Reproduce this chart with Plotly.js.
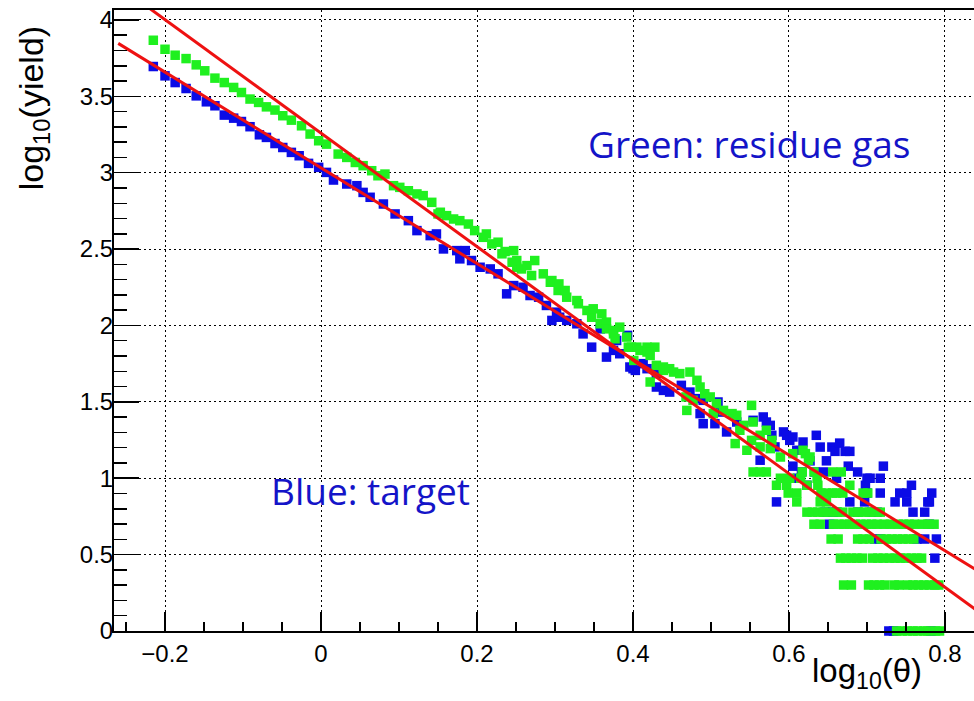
<!DOCTYPE html>
<html>
<head>
<meta charset="utf-8">
<script src="https://cdn.plot.ly/plotly-3.0.1.min.js"></script>
<style>html,body{margin:0;padding:0;background:#fff;overflow:hidden}#plot{width:974px;height:701px}</style>
</head>
<body>
<div id="plot"></div>
<script>
// Blue: target  (log10(theta), log10(yield))
var blueX = [-0.215,-0.200,-0.187,-0.173,-0.160,-0.147,-0.136,-0.124,-0.112,-0.102,-0.091,-0.079,-0.070,-0.059,-0.049,-0.038,-0.028,-0.016,-0.003,0.007,0.016,0.033,0.046,0.054,0.063,
  0.080,0.095,0.112,0.123,0.140,0.148,0.157,0.174,0.178,0.185,0.193,0.204,0.217,0.227,0.238,0.247,0.259,0.268,0.279,0.289,0.296,0.302,0.306,0.315,0.328,0.336,0.347,0.358,0.366,0.375,0.379,0.383,0.393,0.396,0.400,0.403,0.413,0.418,0.430,0.430,0.439,0.447,0.462,0.473,0.482,
  0.486,0.490,0.490,0.505,0.509,0.512,0.520,0.533,0.554,0.563,0.567,0.571,0.576,0.578,0.582,0.584,0.593,0.597,0.601,0.605,0.605,0.610,0.611,0.616,0.618,0.623,0.627,0.633,0.635,0.640,0.644,0.646,0.648,0.652,0.655,0.656,0.659,0.661,0.661,0.665,0.672,0.676,0.678,0.678,0.688,0.688,0.697,0.698,0.700,0.700,0.704,0.706,0.710,0.713,0.717,0.717,0.717,0.721,
  0.728,0.734,0.736,0.742,0.751,0.751,0.757,0.759,0.764,0.774,0.774,0.778,0.780,0.780,0.782,0.783,0.787,0.789];
var blueY = [3.695,3.634,3.590,3.551,3.503,3.464,3.438,3.377,3.357,3.335,3.301,3.248,3.231,3.191,3.165,3.133,3.111,3.061,3.035,3.002,2.952,2.926,2.915,2.871,2.839,
  2.795,2.730,2.686,2.621,2.588,2.599,2.501,2.490,2.436,2.490,2.425,2.381,2.370,2.338,2.207,2.261,2.250,2.196,2.185,2.131,2.033,2.087,2.054,2.033,2.011,1.945,1.858,1.978,1.793,1.837,1.902,1.815,1.935,1.728,1.717,1.706,1.750,1.717,1.685,1.597,1.575,1.564,1.608,1.564,1.521,
  1.423,1.510,1.357,1.357,1.499,1.433,1.303,1.368,1.379,1.118,1.401,1.368,1.346,1.281,1.205,0.845,1.303,1.281,1.248,1.270,1.079,1.183,1.000,1.041,1.237,0.954,1.114,1.041,1.281,1.204,1.041,0.778,1.114,0.699,1.204,0.778,1.176,1.000,0.778,1.230,1.176,1.079,1.176,0.845,1.041,0.778,0.845,0.954,1.000,0.903,1.000,0.778,0.602,0.778,1.000,0.903,0.602,1.079,
  0,0,0.845,0.903,0.845,0.903,0.954,0.778,0.602,0.778,0.602,0.845,0.845,0.699,0,0.903,0.477,0.602];

// Green: residue gas
var greenX = [-0.215,-0.200,-0.187,-0.173,-0.160,-0.149,-0.136,-0.124,-0.112,-0.102,-0.091,-0.080,-0.070,-0.059,-0.049,-0.038,-0.025,-0.014,-0.003,0.007,0.022,0.033,0.044,0.054,0.065,0.073,0.082,0.093,
  0.101,0.112,0.123,0.131,0.142,0.150,0.153,0.161,0.170,0.178,0.189,0.197,0.208,0.212,0.219,0.227,0.232,0.236,0.245,0.247,0.251,0.251,0.257,0.264,0.270,0.274,0.285,0.294,0.296,0.304,0.305,0.313,0.315,0.328,0.330,0.341,0.347,0.349,0.358,0.360,0.366,0.366,0.375,0.375,0.377,0.383,0.392,0.394,0.398,0.401,0.405,0.409,0.418,0.418,0.422,0.422,0.428,0.430,0.439,0.439,0.447,0.452,0.460,0.468,0.469,0.473,0.477,0.482,0.486,0.492,0.499,
  0.503,0.507,0.516,0.527,0.531,0.533,0.537,0.542,0.546,0.552,0.552,0.554,0.554,0.563,0.563,0.563,0.571,0.571,0.576,0.578,0.584,0.589,0.589,0.597,0.599,0.601,0.605,0.610,0.610,0.615,0.617,0.618,0.621,0.623,0.625,0.627,0.632,0.636,0.637,0.640,0.641,0.648,0.648,0.656,0.656,0.661,0.667,0.669,0.678,0.695,0.701,
  0.623,0.630,0.637,0.644,0.651,0.662,0.669,0.682,0.689,0.696,0.703,0.710,0.717,
  0.632,0.640,0.657,0.664,0.671,0.678,0.685,0.692,0.699,0.706,0.713,0.722,0.730,0.740,0.747,0.754,0.761,0.771,0.778,0.786,
  0.654,0.663,0.688,0.695,0.703,0.718,0.725,0.732,0.739,0.746,0.753,0.760,
  0.666,0.673,0.680,0.687,0.694,0.707,0.714,0.721,0.729,0.736,0.743,0.750,0.757,0.764,0.770,
  0.670,0.680,0.702,0.709,0.716,0.723,0.735,0.741,0.752,0.759,0.766,0.773,0.780,0.787,0.792,
  0.738,0.745,0.752,0.759,0.765,0.773,0.778,0.788,0.793];
var greenY = [3.867,3.808,3.769,3.747,3.706,3.667,3.619,3.590,3.558,3.525,3.482,3.460,3.431,3.410,3.373,3.344,3.307,3.253,3.209,3.187,3.122,3.100,3.067,3.046,3.013,2.980,2.991,2.915,
  2.904,2.882,2.861,2.850,2.806,2.730,2.741,2.719,2.697,2.686,2.664,2.621,2.577,2.599,2.534,2.545,2.469,2.484,2.414,2.490,2.381,2.425,2.370,2.392,2.327,2.425,2.338,2.283,2.294,2.229,2.272,2.229,2.185,2.163,2.142,2.098,2.054,2.109,2.011,2.076,2.022,1.978,1.967,1.945,1.913,1.989,1.924,1.858,1.858,1.771,1.858,1.837,1.858,1.826,1.804,1.630,1.858,1.739,1.728,1.706,1.717,1.695,1.685,1.532,1.444,1.695,1.510,1.641,1.597,1.553,1.532,
  1.423,1.488,1.444,1.423,1.227,1.412,1.314,1.346,1.183,1.477,1.248,1.368,1.041,1.281,1.205,1.041,1.314,1.041,1.194,1.248,0.954,1.139,1.000,0.954,0.903,1.000,1.161,0.845,0.903,1.000,1.041,1.183,1.161,0.954,1.118,1.139,1.041,1.000,0.954,0.845,0.903,0.903,0.845,0.903,1.041,0.903,1.041,0.903,0.954,0.903,0.903,
  0.778,0.778,0.778,0.778,0.778,0.778,0.778,0.778,0.778,0.778,0.778,0.778,0.778,
  0.699,0.699,0.699,0.699,0.699,0.699,0.699,0.699,0.699,0.699,0.699,0.699,0.699,0.699,0.699,0.699,0.699,0.699,0.699,0.699,
  0.602,0.602,0.602,0.602,0.602,0.602,0.602,0.602,0.602,0.602,0.602,0.602,
  0.477,0.477,0.477,0.477,0.477,0.477,0.477,0.477,0.477,0.477,0.477,0.477,0.477,0.477,0.477,
  0.301,0.301,0.301,0.301,0.301,0.301,0.301,0.301,0.301,0.301,0.301,0.301,0.301,0.301,0.301,
  0,0,0,0,0,0,0,0,0];

// linear fits: [intercept, slope]
var blueFit = [3.032, -3.133];
var greenFit = [3.259, -3.715];
var fitRange = [-0.26, 0.84];

var xTickVals = [-0.2, 0, 0.2, 0.4, 0.6, 0.8];
var xTickText = ['\u22120.2', '0', '0.2', '0.4', '0.6', '0.8'];
var yTickVals = [0, 0.5, 1, 1.5, 2, 2.5, 3, 3.5, 4];
var yTickText = ['0', '0.5', '1', '1.5', '2', '2.5', '3', '3.5', '4'];

function fitLine(p) { return fitRange.map(function (x) { return p[0] + p[1] * x; }); }

var mk = function (c) { return { symbol: 'square', size: 9.5, color: c, line: { width: 0 } }; };
var traces = [
  { x: blueX, y: blueY, type: 'scatter', mode: 'markers', marker: mk('#0b0be6'), cliponaxis: false, hoverinfo: 'skip' },
  { x: greenX, y: greenY, type: 'scatter', mode: 'markers', marker: mk('#1ff01f'), cliponaxis: false, hoverinfo: 'skip' },
  { x: fitRange, y: fitLine(blueFit), type: 'scatter', mode: 'lines', line: { color: '#ee1111', width: 3 }, hoverinfo: 'skip' },
  { x: fitRange, y: fitLine(greenFit), type: 'scatter', mode: 'lines', line: { color: '#ee1111', width: 3 }, hoverinfo: 'skip' }
];

var axFont = { family: 'Liberation Sans, Arial, sans-serif', size: 24, color: '#000' };
var layout = {
  width: 974, height: 701,
  margin: { l: 114, r: 0, t: 10, b: 70, pad: 0 },
  paper_bgcolor: '#fff', plot_bgcolor: '#fff',
  showlegend: false,
  xaxis: {
    range: [-0.2654, 0.8372], tickvals: xTickVals, ticktext: xTickText,
    ticks: 'inside', ticklen: 19, tickwidth: 1.5, tickcolor: '#000',
    showline: true, linewidth: 2, linecolor: '#000', mirror: true,
    showgrid: true, gridcolor: '#000', gridwidth: 1, griddash: '2px,3px',
    zeroline: false, tickfont: axFont,
    minor: { dtick: 0.05, tick0: 0, ticks: 'inside', ticklen: 9, tickwidth: 1.5, tickcolor: '#000', showgrid: false }
  },
  yaxis: {
    range: [0, 4.065], tickvals: yTickVals, ticktext: yTickText,
    ticks: 'inside', ticklen: 25, tickwidth: 1.5, tickcolor: '#000',
    showline: true, linewidth: 2, linecolor: '#000',
    showgrid: true, gridcolor: '#000', gridwidth: 1, griddash: '2px,3px',
    zeroline: false, tickfont: axFont, ticklabelstandoff: -6,
    minor: { dtick: 0.1, tick0: 0, ticks: 'inside', ticklen: 13, tickwidth: 1.5, tickcolor: '#000', showgrid: false }
  },
  annotations: [
    { text: 'log<sub>10</sub>(yield)', textangle: -90, xref: 'paper', yref: 'paper', x: -0.094, y: 0.842,
      xanchor: 'center', yanchor: 'middle', showarrow: false, font: { family: 'Liberation Sans, Arial, sans-serif', size: 34, color: '#000' } },
    { text: 'log<sub>10</sub>(\u03b8)', xref: 'paper', yref: 'paper', x: 0.876, y: -0.068,
      xanchor: 'center', yanchor: 'middle', showarrow: false, font: { family: 'Liberation Sans, Arial, sans-serif', size: 33, color: '#000' } },
    { text: 'Green: residue gas', xref: 'x', yref: 'y', x: 0.549, y: 3.19, showarrow: false,
      xanchor: 'center', yanchor: 'middle', font: { family: 'Open Sans, sans-serif', size: 37, color: '#1414c8' } },
    { text: 'Blue: target', xref: 'x', yref: 'y', x: 0.064, y: 0.922, showarrow: false,
      xanchor: 'center', yanchor: 'middle', font: { family: 'Open Sans, sans-serif', size: 37, color: '#1414c8' } }
  ]
};
Plotly.newPlot('plot', traces, layout, { displayModeBar: false, staticPlot: true });
</script>
</body>
</html>
